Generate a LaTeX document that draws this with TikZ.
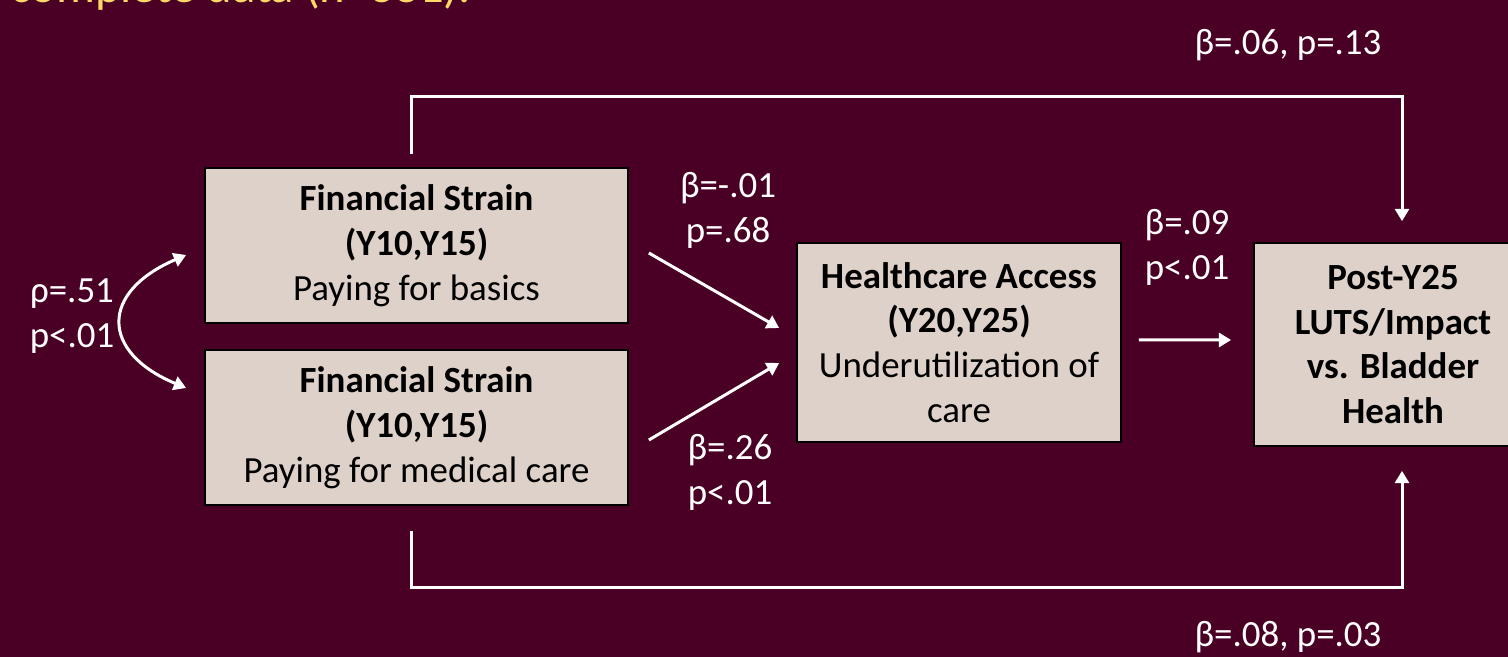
\documentclass[tikz,border=0pt]{standalone}
\usepackage{fontspec}
\setmainfont{Carlito}
\usepackage{tikz}
\usetikzlibrary{arrows.meta}

\definecolor{maroonbg}{RGB}{74,0,37}
\definecolor{boxfill}{RGB}{222,209,201}
\definecolor{titleyellow}{RGB}{255,217,102}

\tikzset{
  varbox/.style={draw=black,fill=boxfill,line width=0.35mm,align=center,inner sep=0pt,
    font=\fontsize{21pt}{25.5pt}\selectfont},
  coef/.style={text=white,align=center,font=\fontsize{21pt}{25.5pt}\selectfont},
  effect/.style={white,line width=0.6mm,-{Triangle[width=8pt,length=7pt]}}
}

\begin{document}
\begin{tikzpicture}
\useasboundingbox (0,0) rectangle (30.16,13.14);
\fill[maroonbg] (0,0) rectangle (30.16,13.14);
\clip (0,0) rectangle (30.16,13.14);

% title line, cut at the top
\node[anchor=base west,text=titleyellow,inner sep=0pt,font=\fontsize{27.7pt}{32pt}\selectfont] (title) at (0.2,13.09) {complete data (n=381).};

\node[varbox,minimum width=8.46cm,minimum height=3.1cm] (basics) at (8.33,8.23)
  {\textbf{Financial Strain}\\\textbf{(Y10,Y15)}\\Paying for basics};
\node[varbox,minimum width=8.46cm,minimum height=3.1cm] (medical) at (8.33,4.59)
  {\textbf{Financial Strain}\\\textbf{(Y10,Y15)}\\Paying for medical care};
\node[varbox,minimum width=6.48cm,minimum height=3.98cm] (access) at (19.18,6.29)
  {\textbf{Healthcare Access}\\\textbf{(Y20,Y25)}\\Underutilization of\\care};
\node[varbox,minimum width=5.56cm,minimum height=4.06cm] (bladder) at (27.86,6.25)
  {\textbf{Post-Y25}\\\textbf{LUTS/Impact}\\\textbf{vs. Bladder}\\\textbf{Health}};

% correlation
\coordinate (r1) at ([xshift=-3.6mm,yshift=-1.9mm]basics.west);
\coordinate (r2) at ([xshift=-3.6mm,yshift=7.9mm]medical.west);
\draw[effect,{Triangle[width=8pt,length=7pt]}-{Triangle[width=8pt,length=7pt]}] (r1) .. controls (2.0,7.3) and (2.0,6.1) .. (r2);
\node[coef] (rho) at (1.44,6.82) {ρ=.51\\p<.01};

% paths to healthcare access
\draw[effect] ([xshift=4mm,yshift=-1.5mm]basics.east) -- ([xshift=-3.4mm,yshift=2.9mm]access.west);
\draw[effect] ([xshift=4mm,yshift=-2.5mm]medical.east) -- ([xshift=-3.4mm,yshift=-4.1mm]access.west);
\node[coef] (b1) at (14.56,8.94) {β=-.01\\p=.68};
\node[coef] (b2) at (14.6,3.7) {β=.26\\p<.01};

\draw[effect] ([xshift=3.4mm,yshift=0.5mm]access.east) -- ([xshift=-4.4mm,yshift=0.9mm]bladder.west);
\node[coef] (b3) at (23.74,8.2) {β=.09\\p<.01};

% direct paths
\draw[effect] ([xshift=-1.1mm,yshift=2.6mm]basics.north) -- ++(0,1.16) -| ([xshift=1.8mm,yshift=4.2mm]bladder.north);
\draw[effect] ([xshift=-1.1mm,yshift=-5mm]medical.south) -- ++(0,-1.14) -| ([xshift=1.8mm,yshift=-4.8mm]bladder.south);
\node[coef] (b4) at (25.76,12.24) {β=.06, p=.13};
\node[coef] (b5) at (25.76,0.4) {β=.08, p=.03};

\end{tikzpicture}
\end{document}
